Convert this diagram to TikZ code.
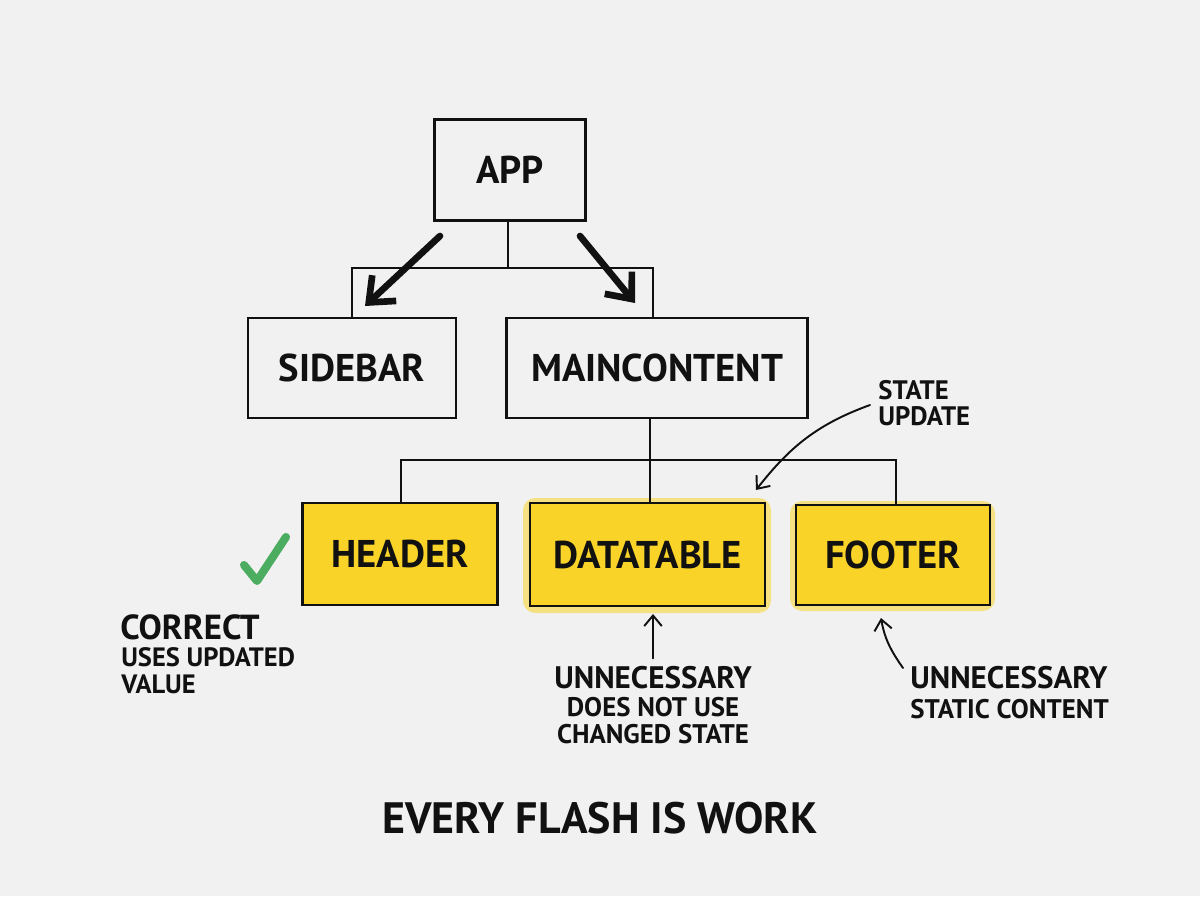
\documentclass[tikz,border=0pt]{standalone}
\usepackage{fontspec}
\setmainfont{PT Sans}
\usetikzlibrary{arrows.meta}
\definecolor{bg}{RGB}{241,241,241}
\definecolor{ink}{RGB}{17,17,17}
\definecolor{hl}{RGB}{249,211,40}
\definecolor{ok}{RGB}{76,172,96}
\tikzset{
  box/.style={draw=ink, line width=1.4pt, inner sep=0pt, font=\fontsize{22}{24}\selectfont\bfseries, text=ink},
  hbox/.style={box, fill=hl},
  glow/.style={fill=hl, fill opacity=0.55, rounded corners=7pt},
  tree/.style={draw=ink, line width=1.1pt},
  bigarrow/.style={draw=ink, line width=3.8pt, line cap=round, -{Straight Barb[length=12pt,width=20pt,line width=3.8pt]}},
  thinarrow/.style={draw=ink, line width=1.1pt, line cap=round, -{Straight Barb[length=6pt,width=10pt,line width=1.1pt]}},
  head/.style={text=ink, font=\fontsize{17.7}{20}\selectfont\bfseries, inner sep=0pt},
  sub/.style={text=ink, font=\fontsize{15.3}{15.3}\selectfont\bfseries, inner sep=0pt},
}
\begin{document}
\begin{tikzpicture}[x=0.02cm,y=-0.02cm]
\fill[bg] (0,0) rectangle (1200,896);
\useasboundingbox (0,0) rectangle (1200,896);

% glows
\fill[glow] (523,498) rectangle (771,613);
\fill[glow] (790,501) rectangle (995,611);

\node[box, minimum width=3.02cm, minimum height=2.02cm] (app) at (510,170) {APP};
\node[box, minimum width=4.16cm, minimum height=2.0cm] (sidebar) at (352,368) {SIDEBAR};
\node[box, minimum width=6.02cm, minimum height=2.0cm] (mainc) at (657,368) {MAINCONTENT};
\node[hbox, minimum width=3.9cm, minimum height=2.04cm] (header) at (400,554) {HEADER};
\node[hbox, minimum width=4.7cm, minimum height=2.06cm] (datatable) at (647.5,554.5) {DATATABLE};
\node[hbox, minimum width=3.88cm, minimum height=2.0cm] (footer) at (893,555) {FOOTER};

% tree connectors
\coordinate (j1) at (508,268);
\coordinate (j2) at (650,460);
\draw[tree] (app.south -| j1) -- (j1);
\draw[tree] (sidebar.north) |- (j1) -| (mainc.north -| 653,0);
\draw[tree] (mainc.south -| j2) -- (j2);
\draw[tree] (header.north -| 401,0) |- (j2) -| (footer.north -| 896,0);
\draw[tree] (j2) -- (datatable.north -| j2);

% big arrows
\coordinate (a1s) at (440,236);
\coordinate (a1e) at (365,306);
\coordinate (a2s) at (580,236);
\coordinate (a2e) at (635,303);
\draw[bigarrow] (a1s) -- (a1e);
\draw[bigarrow] (a2s) -- (a2e);

% state update
\node[sub, anchor=west, align=left, font=\fontsize{15.2}{14.8}\selectfont\bfseries] (su) at (878,403) {STATE\\UPDATE};
\coordinate (sutip) at (756,490);
\draw[thinarrow] (su.west) ++(-8,2) to[out=200,in=52] (sutip);

% check
\draw[ok, line width=4.6pt, line cap=round, line join=round] (244,565) -- (257,581) -- (286,537);
\node[head, anchor=west, font=\fontsize{19.8}{20}\selectfont\bfseries] (correct) at (120,627) {CORRECT};
\node[sub, anchor=north west, align=left, font=\fontsize{15.1}{15.3}\selectfont\bfseries] (correctsub) at (121,647) {USES UPDATED\\VALUE};

% datatable annotation
\node[head] (un1) at (653,678) {UNNECESSARY};
\node[sub, anchor=north, align=center] (un1sub) at (653,697) {DOES NOT USE\\CHANGED STATE};
\coordinate (dttip) at (653,614);
\draw[thinarrow] (un1.north) ++(0,-8) -- (dttip);

% footer annotation
\node[head, anchor=west] (un2) at (910,678) {UNNECESSARY};
\node[sub, anchor=west] (un2sub) at (910,709) {STATIC CONTENT};
\coordinate (fttip) at (881,618);
\draw[thinarrow] (903,668) to[out=125,in=-80] (fttip);

% title
\node[text=ink, font=\fontsize{25}{26}\selectfont\bfseries] (title) at (600,818) {EVERY FLASH IS WORK};
\end{tikzpicture}
\end{document}
